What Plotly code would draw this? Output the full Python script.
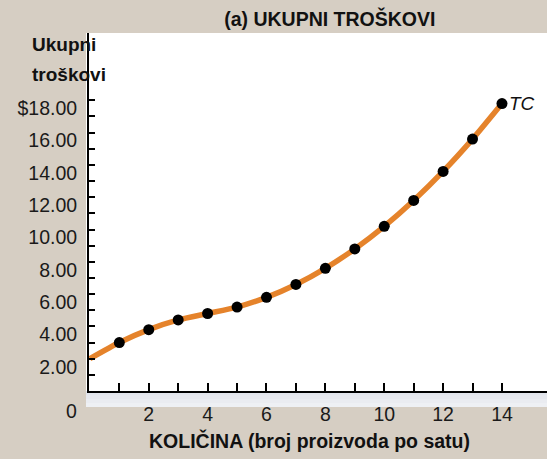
import plotly.graph_objects as go

# Data
quantity = list(range(0, 15))
total_cost = [2.00, 3.00, 3.80, 4.40, 4.80, 5.20, 5.80, 6.60, 7.60, 8.80,
              10.20, 11.80, 13.60, 15.60, 17.80]
x_label_vals = [2, 4, 6, 8, 10, 12, 14]
x_minor_vals = [1, 3, 5, 7, 9, 11, 13]
y_label_vals = [2, 4, 6, 8, 10, 12, 14, 16, 18]
y_label_text = ["2.00", "4.00", "6.00", "8.00", "10.00", "12.00", "14.00", "16.00", "$18.00"]
y_minor_vals = [1, 3, 5, 7, 9, 11, 13, 15, 17]

FONT = "Liberation Sans, Arial, Helvetica, sans-serif"
BG = "#d6cec3"
ORANGE = "#e5832b"

fig = go.Figure()

# line (from q=0) and markers (q>=1)
fig.add_trace(go.Scatter(
    x=quantity, y=total_cost, mode="lines",
    line=dict(color=ORANGE, width=5.5, shape="spline", smoothing=0.6),
    hoverinfo="skip", showlegend=False, cliponaxis=True))
fig.add_trace(go.Scatter(
    x=quantity[1:], y=total_cost[1:], mode="markers",
    marker=dict(color="black", size=11),
    showlegend=False, cliponaxis=False))

fig.update_layout(
    width=547, height=459,
    margin=dict(l=89, r=0, t=33, b=68, pad=0),
    paper_bgcolor=BG, plot_bgcolor="white",
    font=dict(family=FONT, color="#1a1a1a", size=19),
    showlegend=False,
    title=dict(text="<b>(a) UKUPNI TROŠKOVI</b>", x=0.603, xref="container",
               xanchor="center", y=1 - 19 / 459, yref="container", yanchor="middle",
               font=dict(family=FONT, size=19.5, color="#111")),
)

fig.update_xaxes(
    range=[-0.03, 15.53], showgrid=False, zeroline=False,
    showline=True, linecolor="black", linewidth=2,
    tickmode="array", tickvals=x_label_vals, ticktext=[str(v) for v in x_label_vals],
    ticks="inside", ticklen=8, tickwidth=2, tickcolor="black",
    ticklabelstandoff=5,
    tickfont=dict(family=FONT, size=19.5, color="#1a1a1a"),
    minor=dict(tickmode="array", tickvals=x_minor_vals, ticks="inside",
               ticklen=8, tickwidth=2, tickcolor="black", showgrid=False),
    fixedrange=True,
)
fig.update_yaxes(
    range=[0, 22.17], showgrid=False, zeroline=False,
    showline=True, linecolor="black", linewidth=2,
    tickmode="array", tickvals=y_label_vals, ticktext=y_label_text,
    ticks="inside", ticklen=6, tickwidth=2, tickcolor="black",
    ticklabelstandoff=6, ticklabelshift=8,
    tickfont=dict(family=FONT, size=19.5, color="#1a1a1a"),
    minor=dict(tickmode="array", tickvals=y_minor_vals, ticks="inside",
               ticklen=6, tickwidth=2, tickcolor="black", showgrid=False),
    fixedrange=True,
)

# white panel extension (left strip) and shaded band below the x axis
plot_w = 547 - 89
plot_h = 459 - 33 - 68
fig.add_shape(type="rect", xref="paper", yref="paper", layer="below",
              x0=-3 / plot_w, x1=1, y0=0, y1=1,
              fillcolor="white", line=dict(width=0))
band_cols = ["#e2e5ec", "#e6e8ee", "#eaecf1", "#eef0f4"]
for i, c in enumerate(band_cols):
    fig.add_shape(type="rect", xref="paper", yref="paper", layer="below",
                  x0=-3 / plot_w, x1=1,
                  y0=-(i + 1) * 4 / plot_h, y1=-i * 4 / plot_h,
                  fillcolor=c, line=dict(width=0))

# axis titles and labels
fig.add_annotation(text="<b>Ukupni</b>", xref="paper", yref="paper",
                   x=-59 / plot_w, y=(391 - 44) / plot_h, xanchor="left", yanchor="middle",
                   showarrow=False, font=dict(family=FONT, size=19, color="#111"))
fig.add_annotation(text="<b>troškovi</b>", xref="paper", yref="paper",
                   x=-59 / plot_w, y=(391 - 74) / plot_h, xanchor="left", yanchor="middle",
                   showarrow=False, font=dict(family=FONT, size=19, color="#111"))
fig.add_annotation(text="<b>KOLIČINA (broj proizvoda po satu)</b>", xref="paper", yref="paper",
                   x=(309 - 89) / plot_w, y=-(441 - 391) / plot_h, xanchor="center", yanchor="middle",
                   showarrow=False, font=dict(family=FONT, size=19.5, color="#111"))
fig.add_annotation(text="0", x=0, y=0, xref="x", yref="y", xanchor="right", yanchor="middle",
                   xshift=-11, yshift=-20, showarrow=False,
                   font=dict(family=FONT, size=19.5, color="#1a1a1a"))
fig.add_annotation(text="<i>TC</i>", x=quantity[-1], y=total_cost[-1], xref="x", yref="y",
                   xanchor="left", yanchor="middle", xshift=5, showarrow=False,
                   font=dict(family=FONT, size=19, color="#111"))

fig.write_html("out.html", config={"displayModeBar": False},
               post_script="document.body.style.margin='0';document.body.style.overflow='hidden';")
